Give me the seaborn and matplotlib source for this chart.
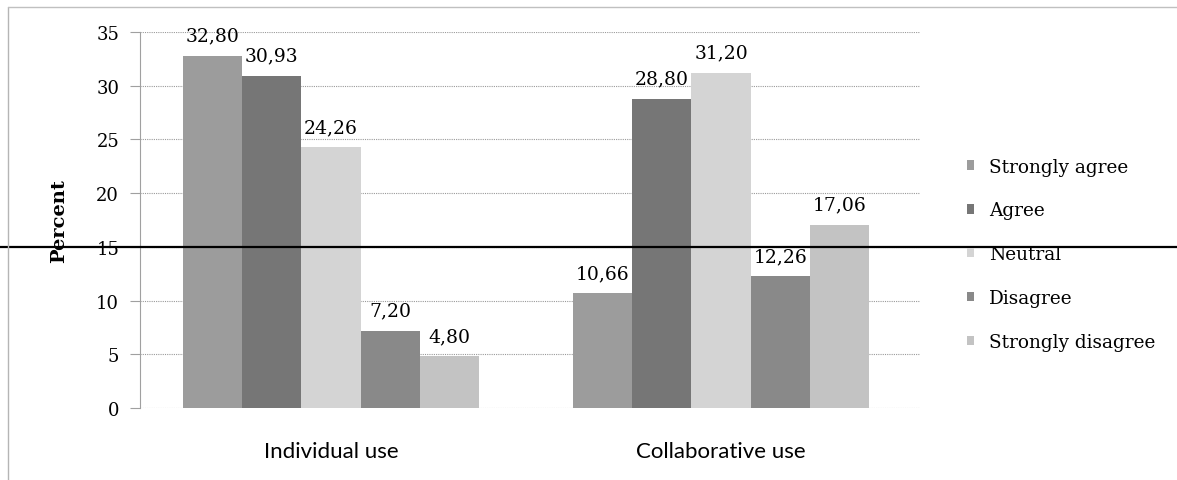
import pandas as pd
import matplotlib.pyplot as plt
import seaborn as sns
from matplotlib import transforms
from matplotlib.lines import Line2D

# Data
uses = ["Individual use", "Collaborative use"]
responses = ["Strongly agree", "Agree", "Neutral", "Disagree", "Strongly disagree"]
individual = [32.80, 30.93, 24.26, 7.20, 4.80]
collaborative = [10.66, 28.80, 31.20, 12.26, 17.06]

colors = ["#9c9c9c", "#767676", "#d4d4d4", "#898989", "#c3c3c3"]

df = pd.DataFrame({
    "use": [uses[0]] * len(responses) + [uses[1]] * len(responses),
    "response": responses * 2,
    "percent": individual + collaborative,
})

sns.set_style("white")
serif = "DejaVu Serif"

fig = plt.figure(figsize=(11.77, 4.81), dpi=100)
ax = fig.add_axes([140 / 1177, 1 - 409 / 481, 780 / 1177, 376 / 481])

sns.barplot(data=df, x="use", y="percent", hue="response", hue_order=responses,
            palette=colors, saturation=1, width=0.76, ax=ax, edgecolor="none")

ax.set_ylim(0, 35)
ax.set_xlim(-0.49, 1.51)
ax.set_yticks(range(0, 36, 5))
ax.yaxis.grid(True, color="#9a9a9a", linestyle=(0, (1, 1)), linewidth=0.8)
ax.set_axisbelow(True)
for s in ["top", "right", "bottom"]:
    ax.spines[s].set_visible(False)
ax.spines["left"].set_color("#a0a0a0")
ax.spines["left"].set_linestyle((0, (1, 1)))
ax.spines["left"].set_linewidth(0.8)

ax.tick_params(axis="y", left=True, length=7, width=0.8, color="#a0a0a0", pad=8,
               labelcolor="black")
ax.tick_params(axis="x", bottom=False, pad=20, labelcolor="black")
for lab in ax.get_yticklabels():
    lab.set_fontfamily(serif)
    lab.set_fontsize(13)
for lab in ax.get_xticklabels():
    lab.set_fontfamily("Lato")
    lab.set_fontsize(16)

ax.set_xlabel("")
ax.set_ylabel("Percent", fontfamily=serif, fontweight="bold", fontsize=14,
              labelpad=20, color="black")

for cont in ax.containers:
    ax.bar_label(cont, labels=[f"{b.get_height():.2f}".replace(".", ",") for b in cont],
                 padding=8, fontfamily=serif, fontsize=13.5, color="black")

handles, labels = ax.get_legend_handles_labels()
ax.legend(handles, labels, loc="upper left", bbox_to_anchor=(950 / 1177, 1 - 142 / 481),
          bbox_transform=fig.transFigure, frameon=False, handlelength=0.4,
          handleheight=0.4, handletextpad=0.8, labelspacing=1.4, labelcolor="black",
          prop={"family": serif, "size": 13.3})

# scan artefact: black line across the page at 15
trans = transforms.blended_transform_factory(fig.transFigure, ax.transData)
ax.plot([0, 1], [15, 15], transform=trans, color="black", linewidth=1.6, clip_on=False, zorder=5)

# faint page border on top/left
fig.add_artist(Line2D([8 / 1177, 8 / 1177], [0, 1 - 8 / 481], color="#b5b5b5",
                      linewidth=1, transform=fig.transFigure))
fig.add_artist(Line2D([8 / 1177, 1], [1 - 8 / 481, 1 - 8 / 481], color="#c0c0c0",
                      linewidth=1, transform=fig.transFigure))

fig.savefig("out.png", dpi=100)
